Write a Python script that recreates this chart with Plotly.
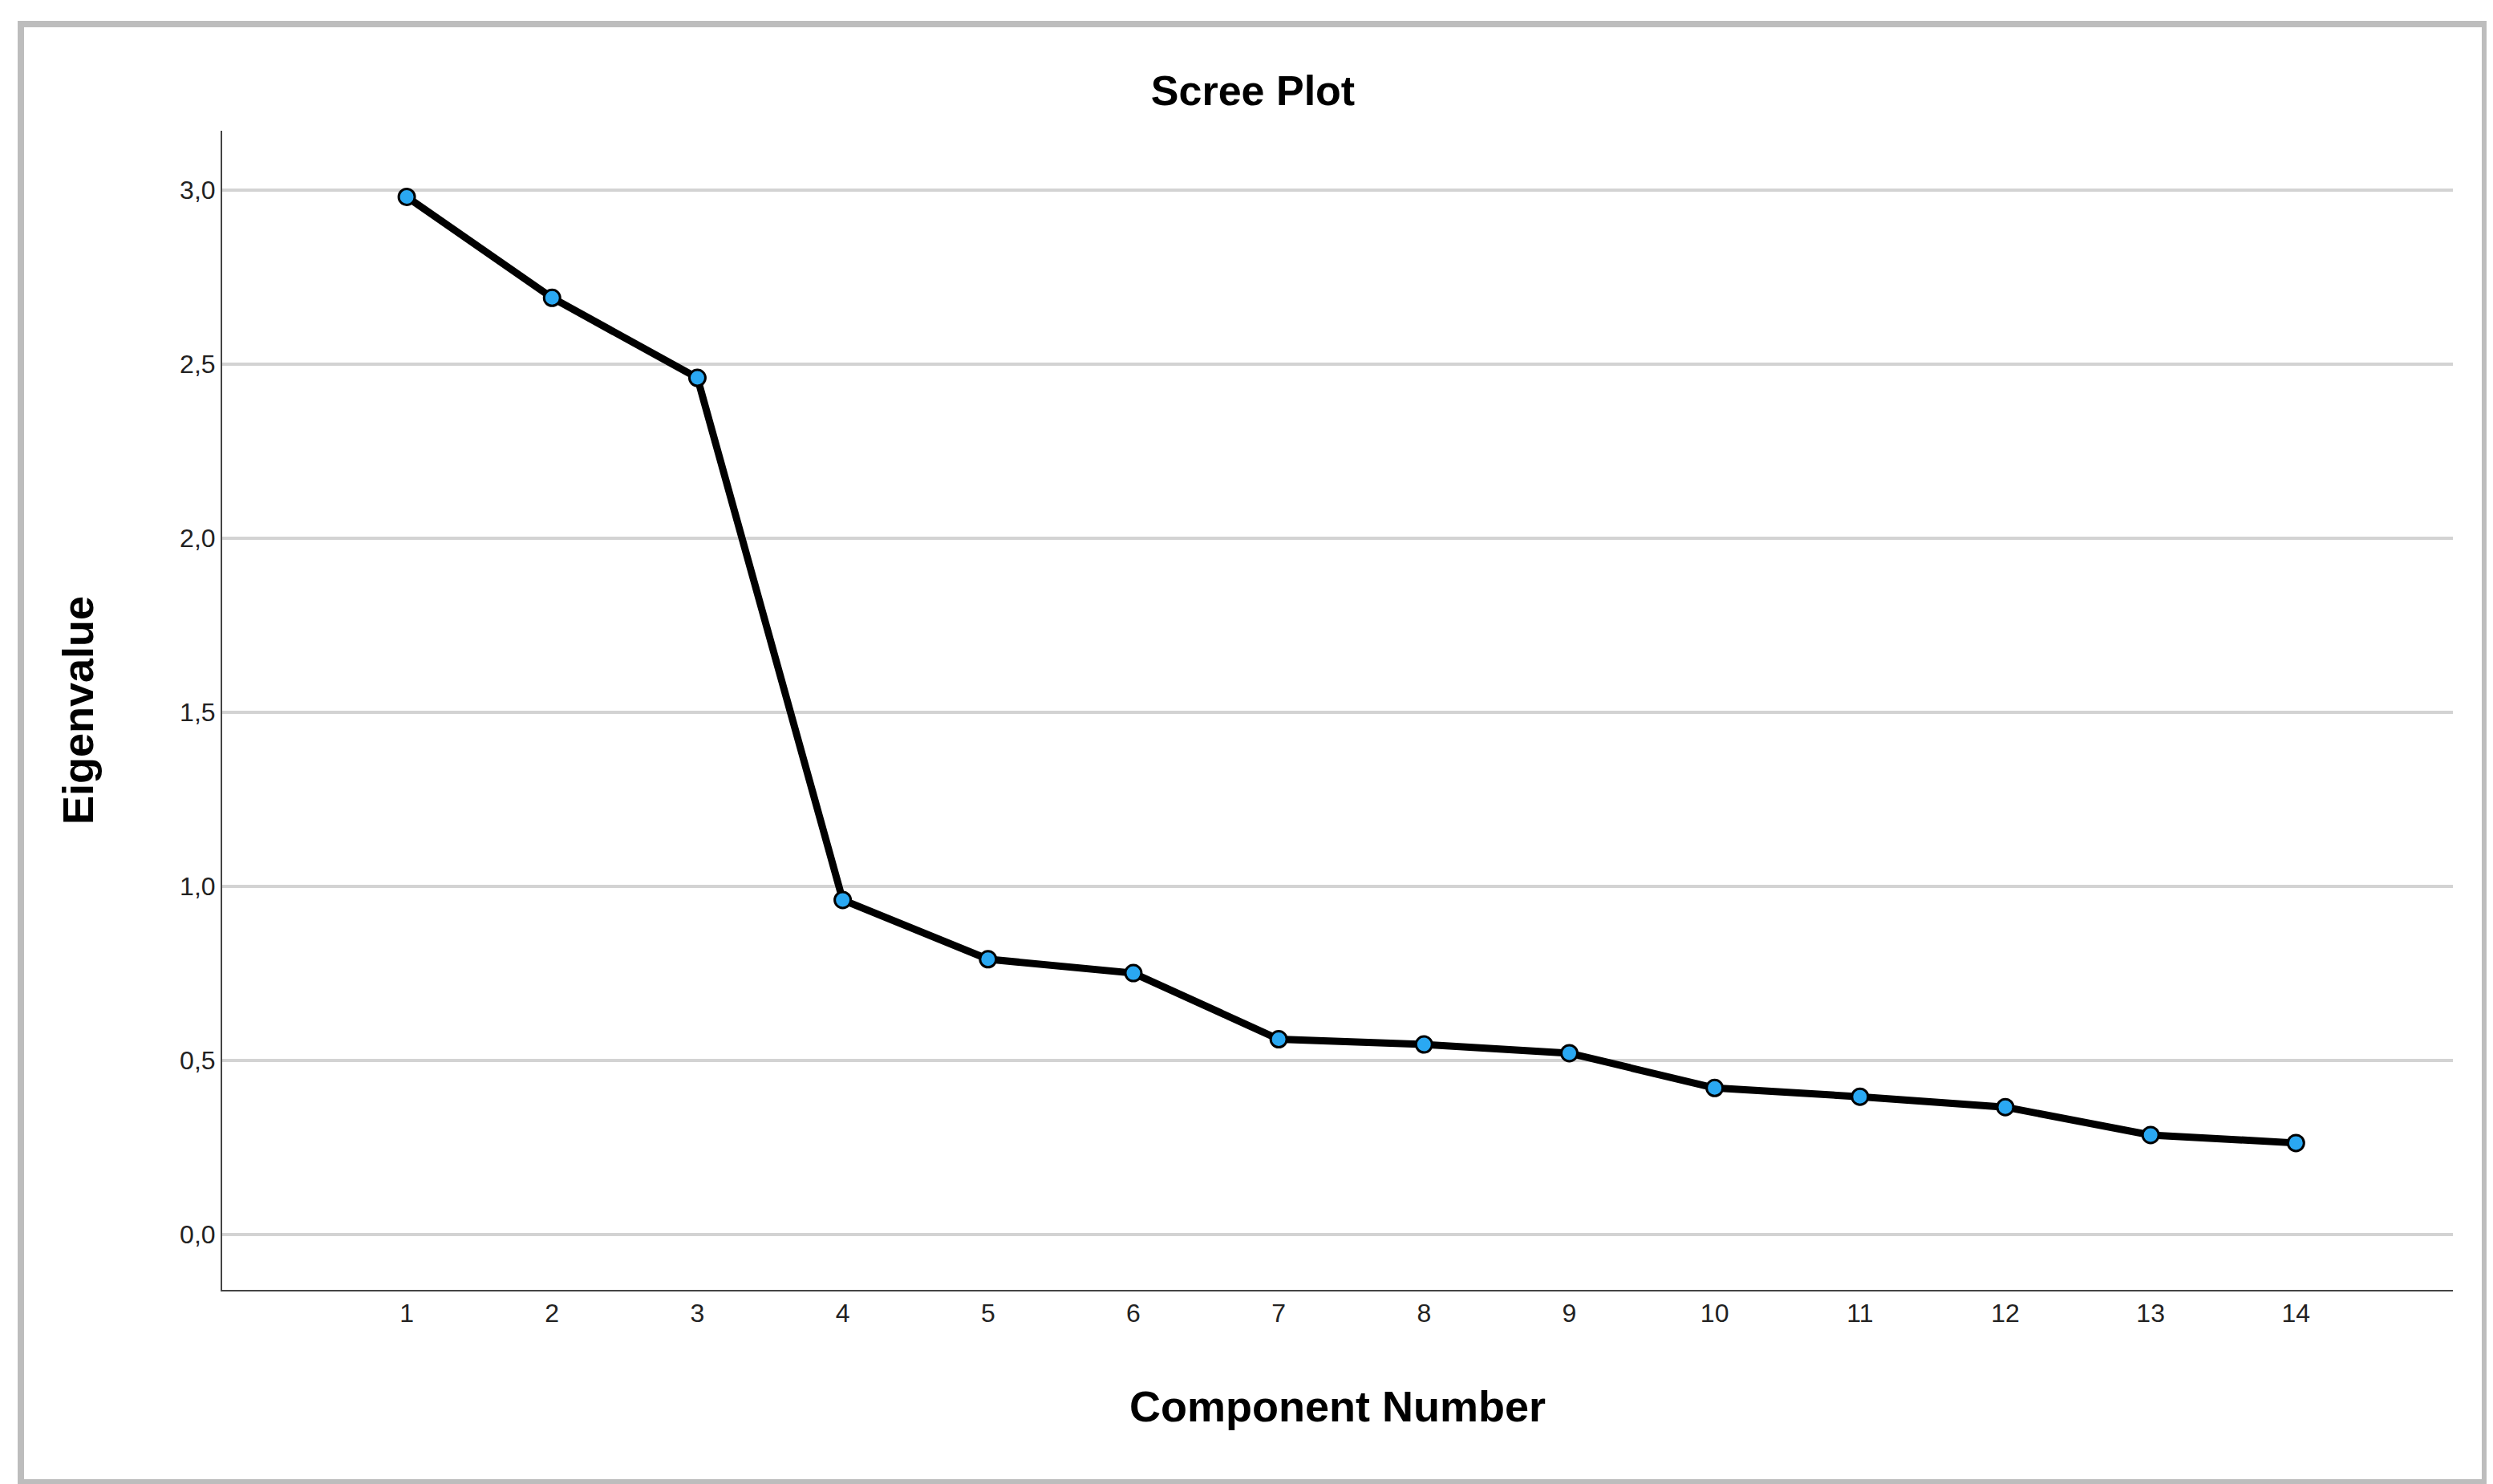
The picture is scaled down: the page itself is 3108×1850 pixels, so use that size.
import plotly.graph_objects as go

components = list(range(1, 15))
eigenvalues = [2.98, 2.69, 2.46, 0.96, 0.79, 0.75, 0.56, 0.545, 0.52, 0.42, 0.395, 0.365, 0.285, 0.262]
y_ticks = [0.0, 0.5, 1.0, 1.5, 2.0, 2.5, 3.0]
y_tick_labels = ['0,0', '0,5', '1,0', '1,5', '2,0', '2,5', '3,0']

W, H = 3108, 1850

fig = go.Figure()
fig.add_trace(go.Scatter(
    x=components, y=eigenvalues, mode='lines+markers',
    line=dict(color='black', width=9),
    marker=dict(size=20, color='#2aa8f2', line=dict(color='black', width=3)),
))

tick_font = dict(family='Liberation Sans Narrow, Arial Narrow, Liberation Sans', size=32, color='#222')
fig.update_layout(
    width=W, height=H,
    paper_bgcolor='white', plot_bgcolor='white',
    margin=dict(l=269, r=58, t=155, b=250),
    showlegend=False,
    title=dict(text='<b>Scree Plot</b>', x=0.5, xanchor='center', y=1 - 105 / H, yanchor='middle',
               font=dict(family='Liberation Sans, Arial', size=52, color='black')),
    xaxis=dict(range=[-0.27, 15.08], tickvals=components, ticks='', showgrid=False, zeroline=False,
               showline=True, linecolor='#444', linewidth=2, tickfont=tick_font,
               title=dict(text='<b>Component Number</b>', standoff=80,
                          font=dict(family='Liberation Sans, Arial', size=54, color='black'))),
    yaxis=dict(range=[-0.16, 3.17], tickvals=y_ticks, ticktext=y_tick_labels, ticks='',
               showgrid=True, gridcolor='#d3d3d3', gridwidth=4, zeroline=False,
               showline=True, linecolor='#444', linewidth=2, tickfont=tick_font,
               title=dict(text='<b>Eigenvalue</b>', standoff=90,
                          font=dict(family='Liberation Sans, Arial', size=54, color='black'))),
)

# outer frame
fig.add_shape(type='rect', xref='paper', yref='paper',
              x0=-251 / (W - 327), x1=1 + 40 / (W - 327), y0=-240 / (H - 405), y1=1 + 133 / (H - 405),
              line=dict(color='#bdbdbd', width=8), layer='below')

fig.write_html('out.html')
